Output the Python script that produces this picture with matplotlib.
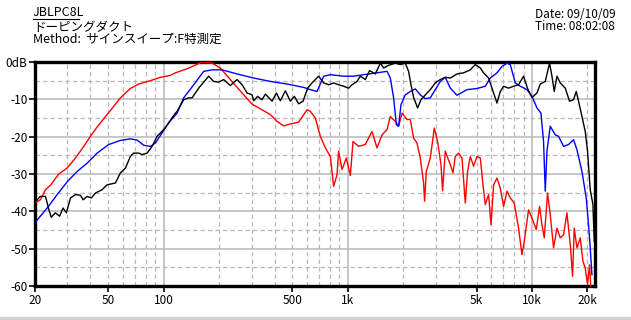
import numpy as np
import matplotlib
matplotlib.use("Agg")
import matplotlib.pyplot as plt
from matplotlib.ticker import FixedLocator, NullFormatter

plt.rcParams['font.family'] = ['Noto Sans CJK JP', 'DejaVu Sans']

# frequency (Hz) / level (dB)
red_f = [20.4, 21.4, 22.8, 24.3, 26.9, 29.9, 33.2, 36.8, 40.0, 43.5, 48.3, 53.5, 58.2, 65.9,
         73.2, 84.7, 96, 108.7, 115.7, 134, 161.6, 183.2, 203, 230, 266.6, 302, 342, 379.7,
         412.8, 448, 487.4, 540.8, 600.5, 625.8, 666, 709, 755, 803.5, 837.5, 873.6, 891, 930,
         981.5, 1032, 1067, 1145, 1245, 1353, 1440, 1534, 1633, 1701, 1811, 1887, 1970, 2096,
         2184, 2277, 2375, 2475, 2579, 2612, 2668, 2805, 2949, 3073, 3206, 3271, 3382, 3602,
         3725, 3833, 3995, 4169, 4345, 4472, 4624, 4820, 5029, 5242, 5420, 5579, 5814, 5992,
         6190, 6457, 6730, 7014, 7318, 7626, 8017, 8457, 8825, 9084, 9585, 10002, 10553, 11000,
         11334, 11665, 12155, 12571, 13101, 13672, 14247, 14848, 15488, 16144, 16615, 16971,
         17554, 18294, 18920, 19472, 20040, 20548, 20911]
red_db = [-37.5, -36.9, -34.2, -33.0, -30.0, -28.4, -25.7, -22.6, -19.9, -17.4, -14.6, -11.9,
          -9.6, -7.1, -5.9, -5.0, -4.1, -3.6, -2.9, -1.8, 0.0, -0.3, -1.6, -4.7, -8.3, -11.3,
          -12.8, -14.1, -15.9, -17.1, -16.6, -16.1, -12.8, -13.2, -15.0, -19.9, -23.0, -25.3,
          -33.3, -30.2, -23.9, -28.8, -25.7, -30.4, -21.3, -22.6, -22.1, -18.6, -23.0, -19.5,
          -18.1, -14.6, -15.9, -17.2, -13.7, -15.4, -15.4, -20.4, -21.7, -25.7, -32.4, -37.3,
          -29.3, -25.7, -17.7, -21.3, -27.5, -34.5, -23.9, -27.5, -29.7, -25.3, -24.4, -25.7,
          -37.8, -29.3, -25.3, -27.9, -25.3, -25.7, -32.9, -38.2, -35.5, -43.6, -32.9, -31.1,
          -33.8, -38.7, -34.6, -36.4, -37.8, -44.5, -51.6, -48.0, -39.6, -41.8, -44.9, -38.7,
          -43.6, -47.1, -35.1, -40.9, -49.8, -44.5, -47.1, -46.3, -40.4, -48.9, -57.4, -44.5,
          -49.8, -47.1, -53.4, -55.2, -59.6, -54.3, -61.0]

blue_f = [20.4, 23.3, 26.4, 29.9, 33.9, 38.4, 43.5, 50.3, 58.2, 65.9, 71.7, 77.9, 84.7, 90.2,
          98, 106.4, 118.2, 128.4, 145.5, 164.9, 183.2, 207.5, 250.3, 308, 379.7, 467.7, 575.4,
          625.8, 680.3, 739, 803.5, 948.9, 1075, 1218, 1440, 1633, 1701, 1773, 1834, 1887, 1945,
          2052, 2184, 2326, 2475, 2636, 2805, 2985, 3178, 3382, 3602, 3916, 4439, 5029, 5579,
          5940, 6457, 6874, 7318, 7626, 8118, 8643, 9395, 10002, 10647, 11193, 11561, 11811,
          12064, 12571, 13383, 13946, 14848, 15800, 16825, 17554, 18687, 19715, 20291, 20729,
          21174]
blue_db = [-42.5, -39.1, -35.5, -32.1, -29.3, -27.1, -24.4, -22.1, -21.0, -20.6, -20.9, -22.3,
           -22.6, -21.7, -19.0, -16.3, -13.7, -9.6, -6.1, -2.5, -2.1, -2.1, -3.2, -4.3, -5.2,
           -5.9, -6.8, -7.4, -7.9, -3.8, -3.4, -3.8, -3.8, -3.4, -2.9, -2.5, -4.3, -9.6, -16.8,
           -17.2, -11.4, -8.8, -7.9, -7.2, -8.8, -9.8, -9.6, -7.4, -5.2, -4.1, -7.0, -8.9, -7.4,
           -7.1, -6.5, -4.3, -2.9, -1.2, -0.3, -0.7, -5.6, -6.5, -7.4, -9.2, -12.3, -13.7, -21.3,
           -34.6, -23.9, -17.2, -19.5, -19.9, -22.6, -22.1, -20.8, -23.5, -29.3, -36.4, -43.6,
           -49.8, -57.0]

black_f = [20.4, 21.4, 22.8, 23.8, 24.5, 25.8, 27.2, 28.4, 29.6, 31.2, 33.2, 35.3, 36.5, 38.4,
           40.5, 42.6, 46.3, 49.3, 54.7, 58.2, 62, 65.9, 68.7, 73.2, 76.3, 81.3, 86.5, 92.1, 100,
           106.4, 113.3, 118.2, 128.4, 136.7, 142.6, 154.9, 175.5, 186.8, 198.9, 211.7, 230,
           250.3, 266.6, 283.8, 302, 308, 323.7, 342, 356.6, 387.7, 409.1, 430.1, 457.9, 487.4,
           512.5, 540.8, 571.3, 605.1, 639, 666, 694, 739, 787, 837.5, 891, 949, 1010, 1054, 1122,
           1169, 1245, 1313, 1410, 1502, 1565, 1666, 1811, 1928, 2052, 2138, 2203, 2277, 2393,
           2497, 2636, 2805, 2985, 3178, 3382, 3602, 3916, 4253, 4624, 4922, 5242, 5462, 5814,
           6066, 6457, 6730, 7014, 7464, 7947, 8457, 9004, 9466, 10002, 10647, 11095, 11811,
           12463, 12842, 13215, 13672, 14247, 15162, 16002, 16825, 17400, 17910, 18687, 19472,
           20040, 20729, 21440, 21793]
black_db = [-37.1, -36.0, -36.0, -39.6, -41.6, -40.4, -41.3, -39.1, -40.4, -36.4, -35.5, -35.7,
            -36.9, -36.0, -36.4, -35.1, -34.2, -32.9, -32.4, -29.7, -28.4, -25.3, -24.4, -24.4,
            -24.8, -24.4, -22.6, -19.9, -18.1, -16.3, -14.3, -13.2, -10.1, -9.6, -9.6, -7.0,
            -3.8, -5.2, -5.4, -4.7, -6.3, -4.7, -6.1, -8.3, -8.8, -10.4, -9.2, -10.1, -8.6,
            -10.5, -8.3, -10.4, -7.7, -10.5, -9.2, -11.2, -10.5, -7.0, -5.6, -4.7, -3.8, -5.6,
            -6.1, -5.6, -6.1, -6.5, -7.0, -6.1, -5.2, -3.8, -4.7, -2.3, -3.2, -0.3, -1.6, -0.9,
            -0.3, -0.7, -0.3, -2.5, -6.1, -9.5, -12.3, -10.1, -8.8, -7.4, -5.6, -4.7, -4.1, -4.3,
            -3.2, -2.9, -2.1, -0.7, -1.6, -2.9, -4.3, -7.0, -11.0, -7.9, -6.5, -7.0, -6.5, -6.1,
            -3.8, -7.1, -9.5, -8.3, -5.9, -5.2, -0.3, -3.8, -7.9, -3.8, -5.6, -7.0, -10.5, -10.1,
            -7.9, -10.5, -14.6, -18.6, -23.9, -34.2, -38.2, -48.0]

x_ticks = [20, 50, 100, 500, 1000, 5000, 10000, 20000]
x_labels = ['20', '50', '100', '500', '1k', '5k', '10k', '20k']
y_ticks = [0, -10, -20, -30, -40, -50, -60]
y_labels = ['0dB', '-10', '-20', '-30', '-40', '-50', '-60']

fig = plt.figure(figsize=(6.31, 3.20), dpi=100)
fig.patch.set_facecolor('white')
ax = fig.add_axes([35 / 631, 1 - 286 / 320, 560 / 631, 224 / 320])

# grid: solid on decades / 10 dB, dashed in between
minor_f = [m * d for d in (10, 100, 1000, 10000) for m in range(2, 10) if 20 < m * d < 22000]
for f in minor_f:
    ax.axvline(f, color='#b8b8b8', lw=0.9, ls=(0, (3.5, 2.5)), zorder=1)
for f in (100, 1000, 10000):
    ax.axvline(f, color='#b8b8b8', lw=1.1, zorder=1)
for y in (-5, -15, -25, -35, -45, -55):
    ax.axhline(y, color='#b8b8b8', lw=0.9, ls=(0, (3.5, 2.5)), zorder=1)
for y in (-10, -20, -30, -40, -50):
    ax.axhline(y, color='#b8b8b8', lw=1.1, zorder=1)

ax.plot(red_f, red_db, color='#ff0000', lw=1.0, zorder=3)
ax.plot(blue_f, blue_db, color='#0000ff', lw=1.0, zorder=4)
ax.plot(black_f, black_db, color='black', lw=1.0, zorder=5)

ax.set_xscale('log')
ax.set_xlim(20, 22000)
ax.set_ylim(-60, 0)
ax.xaxis.set_major_locator(FixedLocator(x_ticks))
ax.xaxis.set_minor_formatter(NullFormatter())
ax.xaxis.set_minor_locator(FixedLocator([]))
ax.set_xticklabels(x_labels)
ax.set_yticks(y_ticks)
ax.set_yticklabels(y_labels)
ax.tick_params(axis='both', direction='out', length=4, width=1.2, labelsize=8.5, pad=1.5)
for s in ax.spines.values():
    s.set_linewidth(2.4)
    s.set_color('black')

fig.text(33 / 631, 1 - 13 / 320, 'JBLPC8L', fontsize=9, va='center', ha='left')
fig.add_artist(plt.Line2D([33 / 631, 79 / 631], [1 - 19 / 320, 1 - 19 / 320], color='black', lw=0.8))
fig.text(33 / 631, 1 - 27 / 320, 'ドーピングダクト', fontsize=9, va='center', ha='left')
fig.text(33 / 631, 1 - 39 / 320, 'Method:  サインスイープ:F特測定', fontsize=9, va='center', ha='left')
fig.text(535 / 631, 1 - 15 / 320, 'Date: 09/10/09', fontsize=8.5, va='center', ha='left')
fig.text(535 / 631, 1 - 27 / 320, 'Time: 08:02:08', fontsize=8.5, va='center', ha='left')

# grey strip at the very bottom
fig.add_artist(plt.Rectangle((0, 0), 1, 3 / 320, color='#d4d0c8', transform=fig.transFigure))

fig.savefig('out.png', dpi=100)
